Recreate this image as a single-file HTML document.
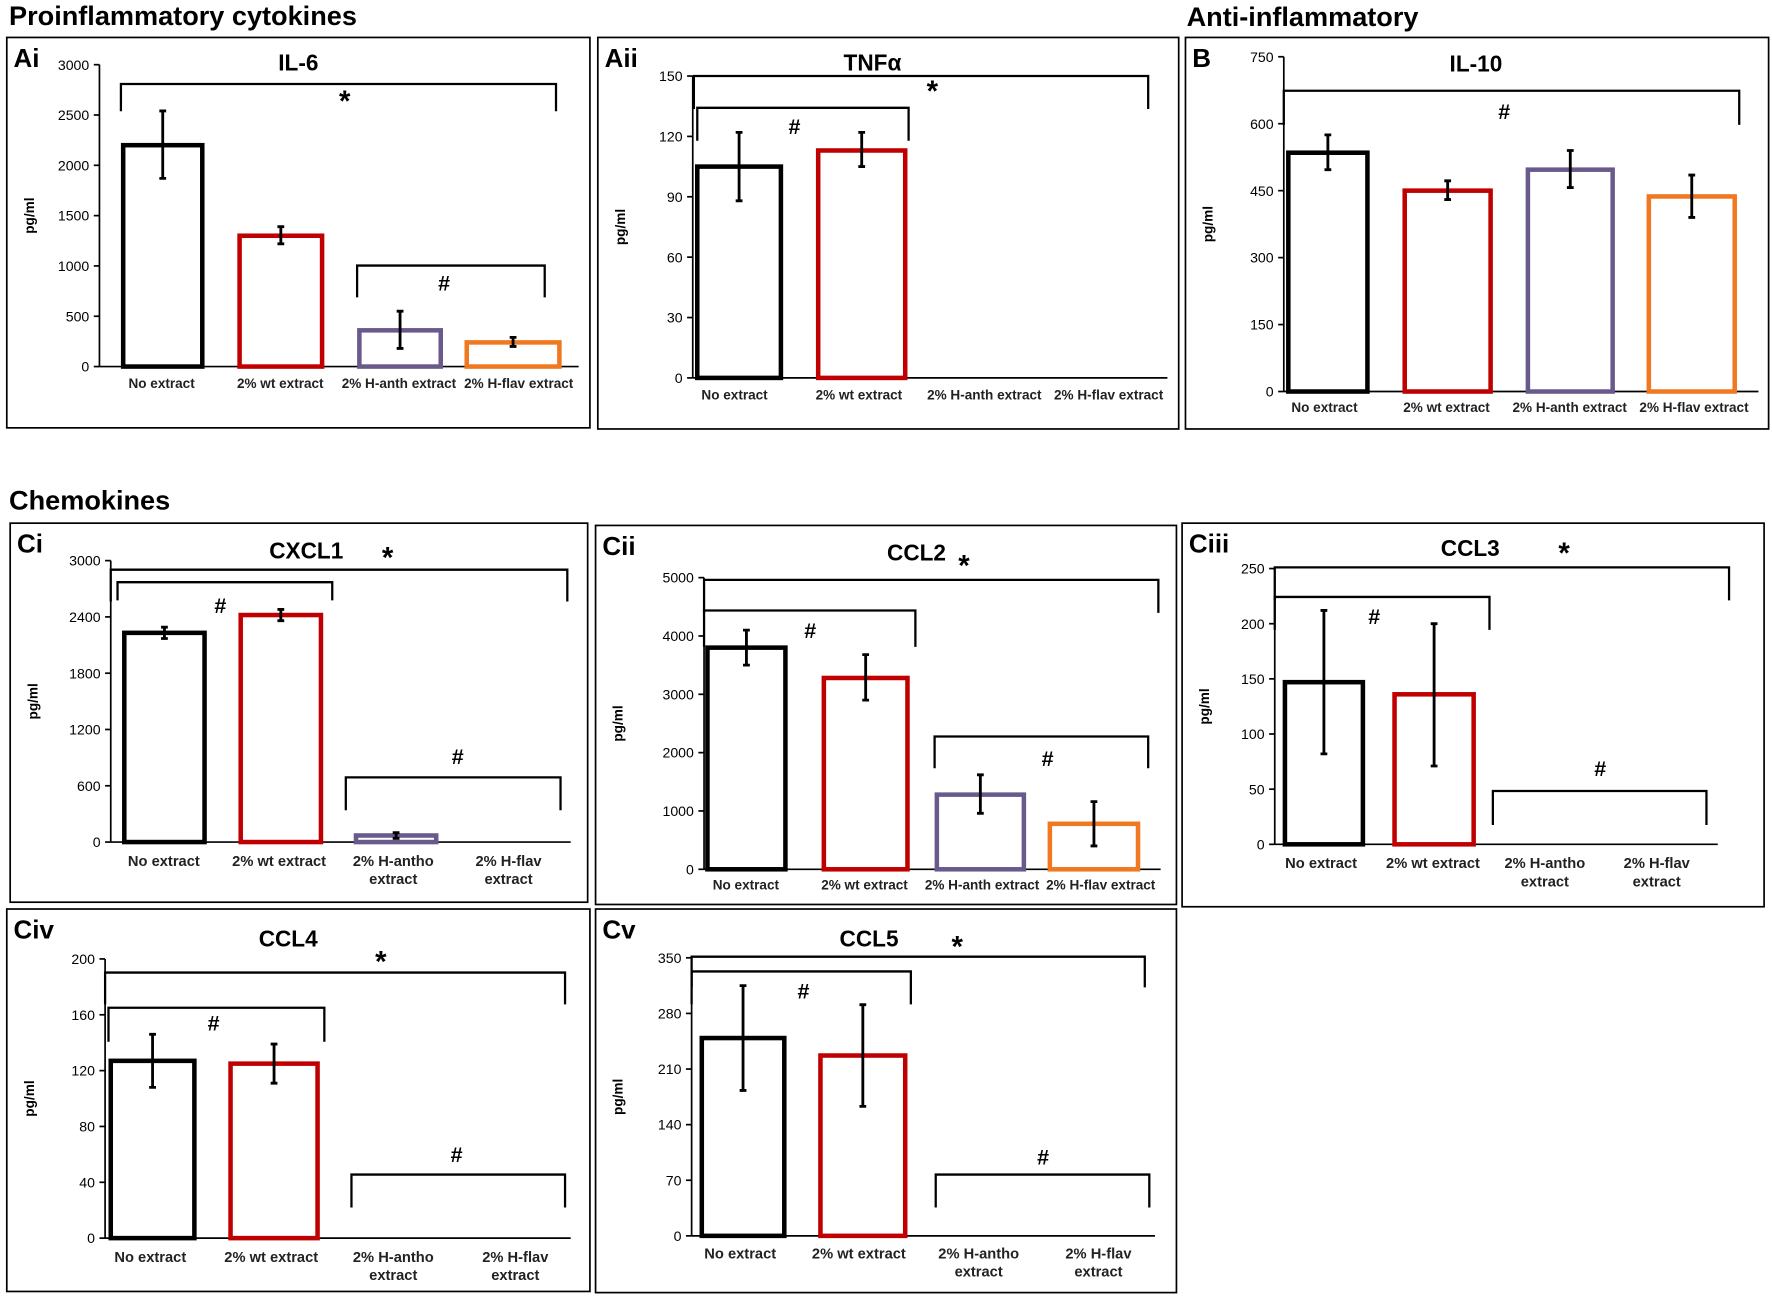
<!DOCTYPE html>
<html><head><meta charset="utf-8">
<style>
html,body{margin:0;padding:0;background:#fff;}
svg{display:block;font-family:"Liberation Sans",Arial,sans-serif;}
</style></head>
<body>
<svg id="fig" width="1772" height="1296" viewBox="0 0 1568 1142" preserveAspectRatio="none" xmlns="http://www.w3.org/2000/svg">
<text x="8" y="22" font-size="24" font-weight="bold">Proinflammatory cytokines</text>
<text x="1050" y="23" font-size="24" font-weight="bold">Anti-inflammatory</text>
<text x="8" y="449" font-size="24" font-weight="bold">Chemokines</text>
</svg>
<script>
// ---- data ----
const colors4 = ["#000000","#c00000","#6a5a8c","#f07820"];
const il6Values = [2200,1300,360,240];
const il6ErrLo = [1870,1220,180,200];
const il6ErrHi = [2540,1390,550,290];
const tnfValues = [105,113,0,0];
const tnfErrLo = [88,105,0,0];
const tnfErrHi = [122,122,0,0];
const il10Values = [535,450,497,437];
const il10ErrLo = [497,430,457,390];
const il10ErrHi = [575,472,540,485];
const cxcl1Values = [2230,2420,70,0];
const cxcl1ErrLo = [2170,2360,40,0];
const cxcl1ErrHi = [2290,2480,100,0];
const ccl2Values = [3800,3280,1280,780];
const ccl2ErrLo = [3500,2900,960,400];
const ccl2ErrHi = [4100,3680,1620,1160];
const ccl3Values = [147,136,0,0];
const ccl3ErrLo = [82,71,0,0];
const ccl3ErrHi = [212,200,0,0];
const ccl4Values = [127,125,0,0];
const ccl4ErrLo = [108,111,0,0];
const ccl4ErrHi = [146,139,0,0];
const ccl5Values = [249,227,0,0];
const ccl5ErrLo = [183,163,0,0];
const ccl5ErrHi = [315,291,0,0];
const catsA = ["No extract","2%  wt extract","2%  H-anth extract","2%  H-flav extract"];
const catsC = [["No extract"],["2%  wt extract"],["2%  H-antho","extract"],["2%  H-flav","extract"]];

const NS="http://www.w3.org/2000/svg";
const svg=document.getElementById('fig');
function mk(tag,attrs,parent,text){const e=document.createElementNS(NS,tag);for(const k in attrs)e.setAttribute(k,attrs[k]);if(text!==undefined)e.textContent=text;(parent||svg).appendChild(e);return e;}

const panels=[
 {id:"ai",label:"Ai",box:[6,33,516,344],title:"IL-6",tx:264,ty:62,ax:88,ax2:512,y0:323,yT:57,max:3000,step:500,
  vals:il6Values,lo:il6ErrLo,hi:il6ErrHi,bars:[[107,181],[210,287],[316,392],[411,497]],cats:catsA,ly:342,lc:[143,248,353,459],fs:12,
  br:[[107,492,74,98,"*",305,98],[316,482,234,262,"#",393,256]]},
 {id:"aii",label:"Aii",box:[529,33,514,345],title:"TNFα",tx:772,ty:62,ax:613,ax2:1033,y0:333,yT:67,max:150,step:30,
  vals:tnfValues,lo:tnfErrLo,hi:tnfErrHi,bars:[[615,693],[722,803],[830,910],[935,1018]],cats:catsA,ly:352,lc:[650,760,871,981],fs:12,
  br:[[614,1016,67,96,"*",825,89],[617,804,95,124,"#",703,118]]},
 {id:"b",label:"B",box:[1049,33,516,345],title:"IL-10",tx:1306,ty:63,ax:1136,ax2:1556,y0:345,yT:50,max:750,step:150,
  vals:il10Values,lo:il10ErrLo,hi:il10ErrHi,bars:[[1138,1212],[1241,1321],[1350,1429],[1457,1537]],cats:catsA,ly:363,lc:[1172,1280,1389,1499],fs:12,
  br:[[1136,1539,80,110,"#",1331,105]]},
 {id:"ci",label:"Ci",box:[9,461,511,334],title:"CXCL1",tx:271,ty:492,ax:98,ax2:505,y0:742,yT:494,max:3000,step:600,
  vals:cxcl1Values,lo:cxcl1ErrLo,hi:cxcl1ErrHi,bars:[[108,183],[211,286],[313,388],[413,490]],cats:catsC,ly:763,lc:[145,247,348,450],fs:13,
  br:[[98,502,502,530,"*",343,500],[104,294,513,529,"#",195,540],[306,496,685,714,"#",405,673]]},
 {id:"cii",label:"Cii",box:[527,463,514,334],title:"CCL2",tx:811,ty:494,ax:623,ax2:1027,y0:766,yT:509,max:5000,step:1000,
  vals:ccl2Values,lo:ccl2ErrLo,hi:ccl2ErrHi,bars:[[624,697],[727,805],[827,908],[927,1009]],cats:catsA,ly:784,lc:[660,765,869,974],fs:12,
  br:[[623,1025,511,540,"*",853,507],[623,810,538,570,"#",717,562],[827,1016,649,677,"#",927,675]]},
 {id:"ciii",label:"Ciii",box:[1046,461,515,338],title:"CCL3",tx:1301,ty:490,ax:1128,ax2:1520,y0:744,yT:501,max:250,step:50,
  vals:ccl3Values,lo:ccl3ErrLo,hi:ccl3ErrHi,bars:[[1135,1208],[1232,1306],[1330,1405],[1428,1503]],cats:catsC,ly:765,lc:[1169,1268,1367,1466],fs:13,
  br:[[1128,1530,500,529,"*",1384,496],[1128,1318,526,555,"#",1216,550],[1321,1510,697,727,"#",1416,684]]},
 {id:"civ",label:"Civ",box:[6,801,516,337],title:"CCL4",tx:255,ty:834,ax:93,ax2:505,y0:1091,yT:845,max:200,step:40,
  vals:ccl4Values,lo:ccl4ErrLo,hi:ccl4ErrHi,bars:[[96,174],[202,283],[310,388],[417,495]],cats:catsC,ly:1112,lc:[133,240,348,456],fs:13,
  br:[[93,500,857,885,"*",337,856],[96,287,888,918,"#",189,908],[311,500,1035,1064,"#",404,1024]]},
 {id:"cv",label:"Cv",box:[527,801,514,338],title:"CCL5",tx:769,ty:834,ax:612,ax2:1022,y0:1089,yT:844,max:350,step:70,
  vals:ccl5Values,lo:ccl5ErrLo,hi:ccl5ErrHi,bars:[[619,696],[724,803],[828,906],[932,1012]],cats:catsC,ly:1109,lc:[655,760,866,972],fs:13,
  br:[[612,1013,843,870,"*",847,843],[612,806,856,885,"#",711,880],[828,1017,1035,1064,"#",923,1026]]}
];

panels.forEach(p=>{
  const g=mk('g',{});
  
  
  const [bx,by,bw,bh]=p.box;
  const box=mk('rect',{x:bx,y:by,width:bw,height:bh,fill:'none',stroke:'#000','stroke-width':1.5},g);
  
  
  const lab=mk('text',{x:bx+6,y:by+26,'font-size':23,'font-weight':'bold'},g,p.label);
  
  
  const t=mk('text',{x:p.tx,y:p.ty,'font-size':20,'font-weight':'bold','text-anchor':'middle'},g,p.title);
  
  
  const Y=v=>p.y0-(v/p.max)*(p.y0-p.yT);
  const ya=mk('line',{x1:p.ax,y1:p.yT,x2:p.ax,y2:p.y0,stroke:'#000','stroke-width':1.5},g);
  
  
  const xa=mk('line',{x1:p.ax,y1:p.y0,x2:p.ax2,y2:p.y0,stroke:'#000','stroke-width':1.5},g);
  
  
  for(let v=0;v<=p.max+1e-9;v+=p.step){
    const y=Y(v);
    mk('line',{x1:p.ax-5,y1:y,x2:p.ax,y2:y,stroke:'#000','stroke-width':1.5},g);
    const tl=mk('text',{x:p.ax-9,y:y+4.5,'font-size':12.5,'text-anchor':'end'},g,String(v));
    
    
  }
  const midY=(p.y0+p.yT)/2;
  const yt=mk('text',{x:bx+24,y:midY,'font-size':12,'font-weight':'bold','text-anchor':'middle',transform:`rotate(-90 ${bx+24} ${midY})`},g,'pg/ml');
  
  
  p.vals.forEach((v,i)=>{
    const [x1,x2]=p.bars[i];
    if(v>0){
      const r=mk('rect',{x:x1+2,y:Y(v),width:x2-x1-4,height:p.y0-Y(v),fill:'#fff',stroke:colors4[i],'stroke-width':4},g);
      
      
      const cx=(x1+x2)/2;
      const e=mk('path',{d:`M${cx},${Y(p.lo[i])}V${Y(p.hi[i])}M${cx-3},${Y(p.lo[i])}H${cx+3}M${cx-3},${Y(p.hi[i])}H${cx+3}`,stroke:'#000','stroke-width':2.5,fill:'none'},g);
      
      
    }
    const c=p.cats[i];
    const lines=Array.isArray(c)?c:[c];
    lines.forEach((s,k)=>{
      const ct=mk('text',{x:p.lc[i],y:p.ly+k*16,'font-size':p.fs,'font-weight':'bold','text-anchor':'middle',fill:'#222'},g,s);
      
      
    });
  });
  p.br.forEach(b=>{
    const [x1,x2,yt2,yb,sym,sx,sy]=b;
    const bp=mk('path',{d:`M${x1},${yb}V${yt2}H${x2}V${yb}`,stroke:'#000','stroke-width':2,fill:'none'},g);
    
    
    const st=mk('text',{x:sx,y:sy,'font-size':sym==='*'?26:19,'font-weight':'bold','text-anchor':'middle'},g,sym);
    
    
  });
});
</script>
</body></html>
